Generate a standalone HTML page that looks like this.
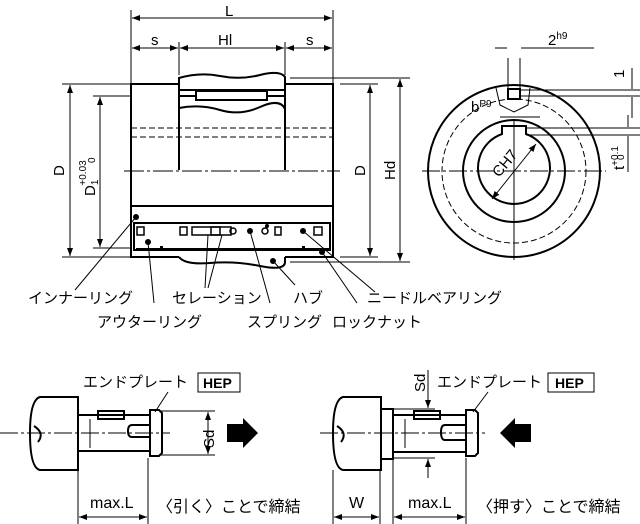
<!DOCTYPE html><html><head><meta charset="utf-8"><style>body{margin:0;background:#fff}svg{display:block}text{font-family:"Liberation Sans","Noto Sans CJK JP",sans-serif;fill:#000}</style></head><body>
<svg width="640" height="524" viewBox="0 0 640 524" xmlns="http://www.w3.org/2000/svg">
<defs><marker id="a" markerWidth="8" markerHeight="6" refX="8" refY="3" orient="auto-start-reverse"><path d="M0,0L8,3L0,6z"/></marker></defs>
<g stroke="#000" fill="none" stroke-width="1">
<line x1="131" y1="10" x2="131" y2="84"/><line x1="333" y1="10" x2="333" y2="84"/>
<line x1="132" y1="18" x2="332" y2="18" marker-start="url(#a)" marker-end="url(#a)"/>
<line x1="179" y1="42" x2="179" y2="75"/><line x1="285" y1="42" x2="285" y2="75"/>
<line x1="132" y1="48" x2="178" y2="48" marker-start="url(#a)" marker-end="url(#a)"/>
<line x1="180" y1="48" x2="284" y2="48" marker-start="url(#a)" marker-end="url(#a)"/>
<line x1="286" y1="48" x2="332" y2="48" marker-start="url(#a)" marker-end="url(#a)"/>
<g stroke-width="2">
<path d="M179,84H131V257H179M285,84H333V257H285"/>
<path d="M179,90V170M285,90V170"/>
<path d="M179,78 Q200,72 220,76 T260,75 T285,77 V90 H179Z"/>
<path d="M179,90H285M179,96H196M267,96H285"/>
<rect x="196" y="91" width="71" height="9"/>
<path d="M179,108 Q200,104 220,110 T260,107 T285,109"/>
<path d="M131,206H333M134,223H330V250H134Z"/>
<path d="M179,257 Q185,265 210,263 T260,266 T285,262 V257"/>
<path d="M136,249H330"/>
</g>
<path d="M131,128H333M131,137H333" stroke-dasharray="6,3"/>
<path d="M124,171H340" stroke-dasharray="20,3,3,3"/>
<g stroke-width="1.5"><rect x="137" y="227" width="7" height="8"/><rect x="180" y="227" width="7" height="8"/><rect x="192" y="227" width="28" height="8"/><rect x="211" y="227" width="20" height="8"/><rect x="314" y="227" width="8" height="8"/><circle cx="233" cy="231" r="3"/><circle cx="265" cy="231" r="3"/><rect x="275" y="227" width="6" height="8"/></g>
<g fill="#000" stroke="none"><circle cx="136" cy="217" r="3"/><circle cx="148" cy="242" r="3"/><circle cx="250" cy="231" r="3"/><circle cx="267" cy="226" r="2"/><circle cx="303" cy="231" r="3"/><circle cx="322" cy="252" r="3"/><circle cx="273" cy="261" r="3"/><rect x="160" y="246" width="3" height="4"/><rect x="302" y="246" width="3" height="4"/></g>
<path d="M62,84H131M62,257H131M93,96H131M93,248H131M340,84H378M340,257H378M290,78H410M290,262H410"/>
<line x1="70" y1="85" x2="70" y2="256" marker-start="url(#a)" marker-end="url(#a)"/>
<line x1="100" y1="97" x2="100" y2="247" marker-start="url(#a)" marker-end="url(#a)"/>
<line x1="370" y1="85" x2="370" y2="256" marker-start="url(#a)" marker-end="url(#a)"/>
<line x1="400" y1="79" x2="400" y2="261" marker-start="url(#a)" marker-end="url(#a)"/>
<path d="M136,217L75,290M148,242L154,303M208,235L205,288M222,235L208,288M250,231L270,303M303,231L375,292M322,252L357,303M273,261L295,285"/>
<g stroke-width="2"><circle cx="514" cy="171" r="86"/><circle cx="514" cy="171" r="51"/><path d="M502,134 A36,36 0 1,0 526,134 V126 H502Z"/><rect x="508" y="89" width="12" height="10"/></g>
<circle cx="514" cy="171" r="72" stroke-dasharray="6,3"/>
<path d="M422,171H606" stroke-dasharray="18,3,3,3"/>
<path d="M514,120V260"/>
<path d="M496,88 L500,105 L514,112 L528,105 L530,88"/>
<line x1="492" y1="199" x2="536" y2="144" marker-start="url(#a)" marker-end="url(#a)"/>
<path d="M508,58V88M520,58V88M495,48H507M521,48H594M500,117H540"/>
<path d="M520,90H640M520,96H640M526,128H640M526,135H640"/>
<path d="M632,68V89M632,97V118M628,115V127M628,136V172"/>
</g>
<g font-size="15">
<text x="225" y="16">L</text><text x="151" y="45">s</text><text x="218" y="45">Hl</text><text x="306" y="45">s</text>
<text transform="translate(64,176) rotate(-90)">D</text>
<text transform="translate(95,196) rotate(-90)">D<tspan font-size="10" dy="3">1</tspan><tspan font-size="10" dx="-6" dy="-12">+0.03</tspan></text>
<text transform="translate(95,163) rotate(-90)" font-size="10">0</text>
<text transform="translate(365,176) rotate(-90)">D</text>
<text transform="translate(395,180) rotate(-90)">Hd</text>
<text x="548" y="45">2<tspan font-size="10" dy="-6">h9</tspan></text>
<text transform="translate(624,78) rotate(-90)">1</text>
<text x="471" y="112">b<tspan font-size="10" dy="-5">P9</tspan></text>
<text transform="translate(499,178) rotate(-50)">CH7</text>
<text transform="translate(624,170) rotate(-90)">t<tspan font-size="10" dy="-6">+0.1</tspan></text>
<text transform="translate(624,160) rotate(-90)" font-size="10">0</text>
<text x="28" y="303">インナーリング</text><text x="172" y="303">セレーション</text><text x="293" y="303">ハブ</text><text x="367" y="303">ニードルベアリング</text>
<text x="97" y="327">アウターリング</text><text x="247" y="327">スプリング</text><text x="332" y="327">ロックナット</text>
<text x="83" y="387">エンドプレート</text><text x="437" y="387">エンドプレート</text>
<text x="157" y="512" font-size="16">〈引く〉ことで締結</text><text x="477" y="512" font-size="16">〈押す〉ことで締結</text>
<text x="90" y="508" font-size="16">max.L</text><text x="408" y="508" font-size="16">max.L</text><text x="349" y="508" font-size="16">W</text>
<text transform="translate(214,448) rotate(-90)">Sd</text><text transform="translate(425,392) rotate(-90)">Sd</text>
</g>
<g font-size="14" font-weight="bold"><rect x="198" y="373" width="42" height="19" fill="none" stroke="#000"/><text x="203" y="388">HEP</text><rect x="548" y="373" width="46" height="19" fill="none" stroke="#000"/><text x="555" y="388">HEP</text></g>
<g stroke="#000" fill="none" stroke-width="2">
<path d="M78,397H40Q30,400 30,433Q30,468 40,470H78Z"/><path d="M34,426Q45,433 38,442"/>
<path d="M78,415H150M78,451H150"/><path d="M150,410H159L162,413V453L159,456H150Z"/><rect x="98" y="411" width="26" height="8"/><path d="M150,425H132Q128,425 128,431Q128,437 132,437H150"/>
<path d="M343,397H381V470H343Q333,468 333,433Q333,400 343,397Z"/><path d="M337,426Q348,433 341,442"/><rect x="381" y="409" width="12" height="50"/>
<path d="M393,415H466M393,452H466"/><path d="M466,410H475L478,413V453L475,456H466Z"/><rect x="414" y="411" width="26" height="8"/><path d="M466,425H445Q441,425 441,432Q441,440 445,440H466"/>
</g>
<g stroke="#000" fill="none"><path d="M0,433H170M320,433H485" stroke-dasharray="18,3,3,3"/>
<path d="M90,419V448M405,419V448M78,470V524M148,458V524M160,411H215M160,455H215M333,470V524M380,470V524M393,460V524M466,458V524M155,412L168,392M473,412L488,392M393,409H435M393,458H435"/>
<line x1="79" y1="517" x2="147" y2="517" marker-start="url(#a)" marker-end="url(#a)"/>
<line x1="334" y1="517" x2="379" y2="517" marker-start="url(#a)" marker-end="url(#a)"/>
<line x1="394" y1="517" x2="465" y2="517" marker-start="url(#a)" marker-end="url(#a)"/>
<line x1="208" y1="412" x2="208" y2="454" marker-start="url(#a)" marker-end="url(#a)"/>
<path d="M428,370V408M428,459V478"/><line x1="428" y1="398" x2="428" y2="408" marker-end="url(#a)"/><line x1="428" y1="470" x2="428" y2="459" marker-end="url(#a)"/></g>
<path d="M227,424H243V418L258,433L243,448V442H227Z" fill="#000"/>
<path d="M531,424H515V418L500,433L515,448V442H531Z" fill="#000"/>
</svg></body></html>
